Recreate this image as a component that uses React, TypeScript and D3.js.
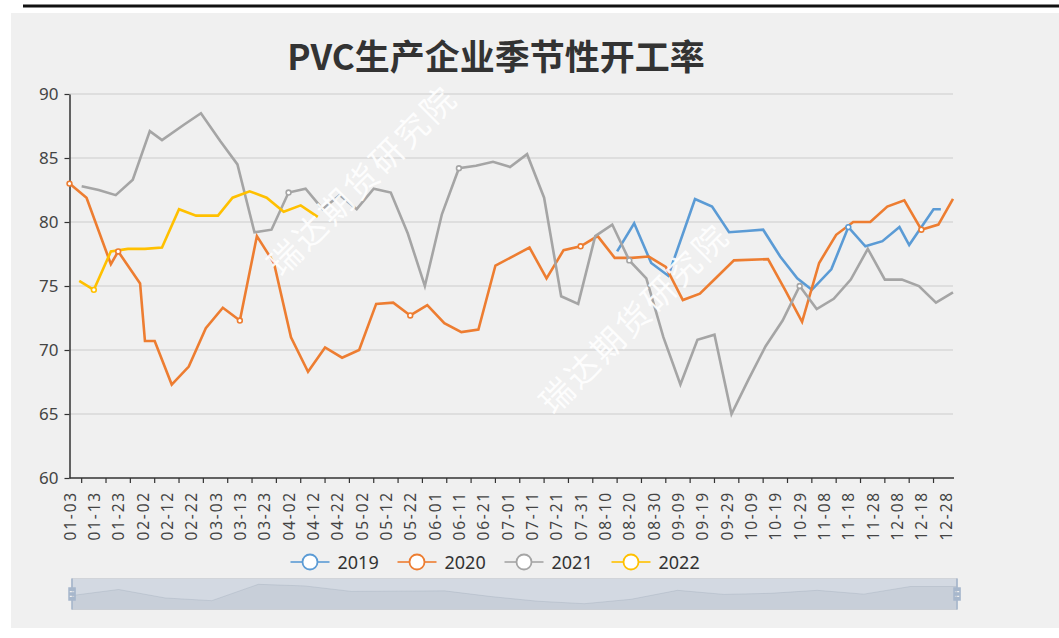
import { useEffect, useRef } from 'react'
import * as d3 from 'd3'

const TITLE = 'PVC生产企业季节性开工率'
const WATERMARK = '瑞达期货研究院'

const years = ['2019', '2020', '2021', '2022']
const colors = ['#5b9bd5', '#ed7d31', '#a5a5a5', '#ffc000']

const dates2019 = ['08-15', '08-22', '08-29', '09-05', '09-16', '09-23', '09-30', '10-07', '10-14', '10-21',
  '10-28', '11-03', '11-11', '11-18', '11-25', '12-02', '12-09', '12-13', '12-23', '12-26']
const values2019 = [77.7, 79.9, 76.8, 75.8, 81.8, 81.2, 79.2, 79.3, 79.4, 77.3,
  75.6, 74.7, 76.3, 79.6, 78.1, 78.5, 79.6, 78.2, 81.0, 81.0]

const dates2020 = ['01-03', '01-10', '01-20', '01-23', '02-01', '02-03', '02-07', '02-14', '02-21', '02-28',
  '03-06', '03-13', '03-20', '03-27', '04-03', '04-10', '04-17', '04-24', '05-01', '05-08',
  '05-15', '05-22', '05-29', '06-05', '06-12', '06-19', '06-26', '07-03', '07-10', '07-17',
  '07-24', '07-31', '08-07', '08-14', '08-21', '08-28', '09-04', '09-11', '09-18', '09-25',
  '10-02', '10-16', '10-23', '10-30', '11-06', '11-13', '11-20', '11-27', '12-04', '12-11',
  '12-18', '12-25', '12-31']
const values2020 = [83.0, 81.9, 76.7, 77.7, 75.2, 70.7, 70.7, 67.3, 68.7, 71.7,
  73.3, 72.3, 78.9, 76.8, 71.0, 68.3, 70.2, 69.4, 70.0, 73.6,
  73.7, 72.7, 73.5, 72.1, 71.4, 71.6, 76.6, 77.3, 78.0, 75.6,
  77.8, 78.1, 78.9, 77.2, 77.2, 77.3, 76.5, 73.9, 74.4, 75.7,
  77.0, 77.1, 74.7, 72.2, 76.8, 79.0, 80.0, 80.0, 81.2, 81.7,
  79.4, 79.8, 81.8]

const dates2021 = ['01-08', '01-15', '01-22', '01-29', '02-05', '02-10', '02-19', '02-26', '03-05', '03-12',
  '03-19', '03-26', '04-02', '04-09', '04-16', '04-23', '04-30', '05-07', '05-14', '05-21',
  '05-28', '06-04', '06-11', '06-18', '06-25', '07-02', '07-09', '07-16', '07-23', '07-30',
  '08-06', '08-13', '08-20', '08-27', '09-03', '09-10', '09-17', '09-24', '10-01', '10-08',
  '10-15', '10-22', '10-29', '11-05', '11-12', '11-19', '11-26', '12-03', '12-10', '12-17',
  '12-24', '12-31']
const values2021 = [82.8, 82.5, 82.1, 83.3, 87.1, 86.4, 87.6, 88.5, 86.3, 84.5,
  79.2, 79.4, 82.3, 82.6, 81.0, 82.1, 81.0, 82.6, 82.3, 79.1,
  75.0, 80.6, 84.2, 84.4, 84.7, 84.3, 85.3, 81.9, 74.2, 73.6,
  78.9, 79.8, 77.0, 75.6, 71.0, 67.3, 70.8, 71.2, 65.0, 67.7,
  70.3, 72.3, 75.0, 73.2, 74.0, 75.5, 77.9, 75.5, 75.5, 75.0,
  73.7, 74.5]

const dates2022 = ['01-07', '01-13', '01-20', '01-27', '02-03', '02-10', '02-17', '02-24', '03-04', '03-10',
  '03-17', '03-24', '03-31', '04-07', '04-14']
const values2022 = [75.4, 74.7, 77.7, 77.9, 77.9, 78.0, 81.0, 80.5, 80.5, 81.9,
  82.4, 81.9, 80.8, 81.3, 80.4]

const xLabels = ['01-03', '01-13', '01-23', '02-02', '02-12', '02-22', '03-03', '03-13', '03-23', '04-02',
  '04-12', '04-22', '05-02', '05-12', '05-22', '06-01', '06-11', '06-21', '07-01', '07-11',
  '07-21', '07-31', '08-10', '08-20', '08-30', '09-09', '09-19', '09-29', '10-09', '10-19',
  '10-29', '11-08', '11-18', '11-28', '12-08', '12-18', '12-28']
const yTicks = [60, 65, 70, 75, 80, 85, 90]

// category axis: every day of a leap year, starting at the first label
const categories = d3
  .timeDay.range(new Date(2020, 0, 3), new Date(2021, 0, 1))
  .map(d3.timeFormat('%m-%d'))

const seriesDates = [dates2019, dates2020, dates2021, dates2022]
const seriesValues = [values2019, values2020, values2021, values2022]

const WIDTH = 1059
const HEIGHT = 638
const PLOT = { left: 69.5, right: 953, top: 94, bottom: 478 }
const SLIDER = { left: 72, right: 957, top: 578.5, bottom: 609.5 }
const HANDLE_PATH =
  'M8.2,13.6V3.9H6.3v9.7H3.1v14.9h3.3v9.7h1.8v-9.7h3.3V13.6H8.2z M9.7,24.4H4.8v-1.4h4.9V24.4z M9.7,19.1H4.8v-1.4h4.9V19.1z'

interface Point {
  date: string
  value: number
}

export default function App() {
  const svgRef = useRef<SVGSVGElement | null>(null)

  useEffect(() => {
    if (!svgRef.current) {
      return
    }

    const svg = d3.select(svgRef.current)
    svg.selectAll('*').remove()

    const x = d3.scalePoint<string>().domain(categories).range([PLOT.left, PLOT.right])
    const y = d3.scaleLinear().domain([60, 90]).range([PLOT.bottom, PLOT.top])
    const labelSet = new Set(xLabels)

    svg.append('rect').attr('width', WIDTH).attr('height', HEIGHT).attr('fill', '#ffffff')
    svg
      .append('rect')
      .attr('x', 11)
      .attr('y', 13)
      .attr('width', WIDTH - 11)
      .attr('height', 615)
      .attr('fill', '#f0f0f0')
    svg
      .append('line')
      .attr('x1', 23)
      .attr('x2', WIDTH)
      .attr('y1', 6)
      .attr('y2', 6)
      .attr('stroke', '#111')
      .attr('stroke-width', 3)

    svg
      .append('text')
      .attr('x', 496)
      .attr('y', 70)
      .attr('text-anchor', 'middle')
      .attr('font-family', '"Noto Sans CJK SC", sans-serif')
      .attr('font-size', 35)
      .attr('font-weight', 700)
      .attr('fill', '#333')
      .text(TITLE)

    // grid
    svg
      .append('g')
      .selectAll('line')
      .data(yTicks.filter((t) => t > 60))
      .join('line')
      .attr('x1', PLOT.left)
      .attr('x2', PLOT.right)
      .attr('y1', (t: number) => y(t))
      .attr('y2', (t: number) => y(t))
      .attr('stroke', '#cccccc')
      .attr('stroke-width', 1)

    // y axis
    const yAxis = svg
      .append('g')
      .attr('transform', `translate(${PLOT.left},0)`)
      .call(d3.axisLeft(y).tickValues(yTicks).tickSize(5).tickSizeOuter(0).tickPadding(6))
    yAxis.select('.domain').attr('stroke', '#333').attr('stroke-width', 1.5)
    yAxis.selectAll('.tick line').attr('stroke', '#333').attr('stroke-width', 1.2)
    yAxis
      .selectAll('.tick text')
      .attr('font-family', '"Noto Sans", sans-serif')
      .attr('font-size', 17)
      .attr('fill', '#444')

    // x axis
    const xAxis = svg.append('g')
    xAxis
      .append('line')
      .attr('x1', PLOT.left)
      .attr('x2', PLOT.right + 1)
      .attr('y1', PLOT.bottom)
      .attr('y2', PLOT.bottom)
      .attr('stroke', '#333')
      .attr('stroke-width', 1.5)
    xAxis
      .selectAll('line.tick')
      .data(categories.filter((_, i) => i % 10 === 5))
      .join('line')
      .attr('class', 'tick')
      .attr('x1', (d: string) => x(d) as number)
      .attr('x2', (d: string) => x(d) as number)
      .attr('y1', PLOT.bottom)
      .attr('y2', PLOT.bottom + 5)
      .attr('stroke', '#333')
      .attr('stroke-width', 1.2)
    xAxis
      .selectAll('text')
      .data(xLabels)
      .join('text')
      .attr('transform', (d: string) => `translate(${x(d)},${PLOT.bottom + 13}) rotate(-90)`)
      .attr('text-anchor', 'end')
      .attr('dominant-baseline', 'central')
      .attr('font-family', '"Noto Sans", sans-serif')
      .attr('font-size', 15.5)
      .attr('letter-spacing', 1.8)
      .attr('fill', '#444')
      .text((d: string) => d)

    // series
    const line = d3
      .line<Point>()
      .x((p) => x(p.date) as number)
      .y((p) => y(p.value))

    const seriesPoints: Point[][] = seriesDates.map((dates, s) =>
      dates.map((date, i) => ({ date, value: seriesValues[s][i] })),
    )

    seriesPoints.forEach((points, s) => {
      svg
        .append('path')
        .attr('d', line(points))
        .attr('fill', 'none')
        .attr('stroke', colors[s])
        .attr('stroke-width', 2.6)
    })

    seriesPoints.forEach((points, s) => {
      svg
        .append('g')
        .selectAll('circle')
        .data(points.filter((p) => labelSet.has(p.date)))
        .join('circle')
        .attr('cx', (p: Point) => x(p.date) as number)
        .attr('cy', (p: Point) => y(p.value))
        .attr('r', 2.4)
        .attr('fill', '#fff')
        .attr('stroke', colors[s])
        .attr('stroke-width', 1.6)
    })

    // watermarks
    const marks = [
      [361, 179],
      [633, 317],
    ]
    svg
      .append('g')
      .selectAll('text')
      .data(marks)
      .join('text')
      .attr('transform', (m: number[]) => `translate(${m[0]},${m[1]}) rotate(-45)`)
      .attr('text-anchor', 'middle')
      .attr('dominant-baseline', 'central')
      .attr('font-family', '"Noto Sans CJK SC", sans-serif')
      .attr('font-size', 33)
      .attr('letter-spacing', 3)
      .attr('fill', '#ffffff')
      .attr('opacity', 0.9)
      .text(WATERMARK)

    // legend
    const itemStride = 107
    const legendLeft = 496 - (itemStride * years.length - 17) / 2
    const legend = svg
      .append('g')
      .selectAll('g')
      .data(years)
      .join('g')
      .attr('transform', (_: string, i: number) => `translate(${legendLeft + i * itemStride},562)`)
    legend
      .append('line')
      .attr('x1', 0)
      .attr('x2', 39)
      .attr('stroke', (_: string, i: number) => colors[i])
      .attr('stroke-width', 2)
      .attr('stroke-opacity', 0.8)
    legend
      .append('circle')
      .attr('cx', 19.5)
      .attr('r', 7.5)
      .attr('fill', '#fff')
      .attr('stroke', (_: string, i: number) => colors[i])
      .attr('stroke-width', 1.8)
    legend
      .append('text')
      .attr('x', 47)
      .attr('dominant-baseline', 'central')
      .attr('font-family', '"Noto Sans", sans-serif')
      .attr('font-size', 18)
      .attr('fill', '#333')
      .text((d: string) => d)

    // data zoom slider with the shadow of the first series
    const sx = d3
      .scaleLinear()
      .domain([0, values2019.length - 1])
      .range([SLIDER.left, SLIDER.right])
    const [lo, hi] = d3.extent(values2019) as [number, number]
    const pad = (hi - lo) * 0.3
    const sy = d3
      .scaleLinear()
      .domain([lo - pad, hi + pad])
      .range([SLIDER.bottom, SLIDER.top])

    const slider = svg.append('g')
    slider
      .append('rect')
      .attr('x', SLIDER.left)
      .attr('y', SLIDER.top)
      .attr('width', SLIDER.right - SLIDER.left)
      .attr('height', SLIDER.bottom - SLIDER.top)
      .attr('fill', 'none')
      .attr('stroke', '#dddddd')
    slider
      .append('path')
      .attr(
        'd',
        d3
          .area<number>()
          .x((_, i) => sx(i))
          .y0(SLIDER.bottom)
          .y1((v) => sy(v))(values2019),
      )
      .attr('fill', 'rgba(47,69,84,0.09)')
    slider
      .append('path')
      .attr(
        'd',
        d3
          .line<number>()
          .x((_, i) => sx(i))
          .y((v) => sy(v))(values2019),
      )
      .attr('fill', 'none')
      .attr('stroke', 'rgba(47,69,84,0.3)')
      .attr('stroke-width', 0.5)
    slider
      .append('rect')
      .attr('x', SLIDER.left)
      .attr('y', SLIDER.top)
      .attr('width', SLIDER.right - SLIDER.left)
      .attr('height', SLIDER.bottom - SLIDER.top)
      .attr('fill', 'rgba(167,183,204,0.4)')

    const handleScale = (SLIDER.bottom - SLIDER.top) / 34.3
    slider
      .selectAll('path.handle')
      .data([SLIDER.left, SLIDER.right])
      .join('path')
      .attr('class', 'handle')
      .attr('d', HANDLE_PATH)
      .attr('fill-rule', 'evenodd')
      .attr('fill', '#a7b7cc')
      .attr(
        'transform',
        (hx: number) =>
          `translate(${hx - 7.25 * handleScale},${SLIDER.top - 3.9 * handleScale}) scale(${handleScale})`,
      )
  }, [])

  return (
    <svg
      ref={svgRef}
      width={WIDTH}
      height={HEIGHT}
      style={{ position: 'absolute', left: 0, top: 0 }}
      role="img"
      aria-label={TITLE}
    />
  )
}
